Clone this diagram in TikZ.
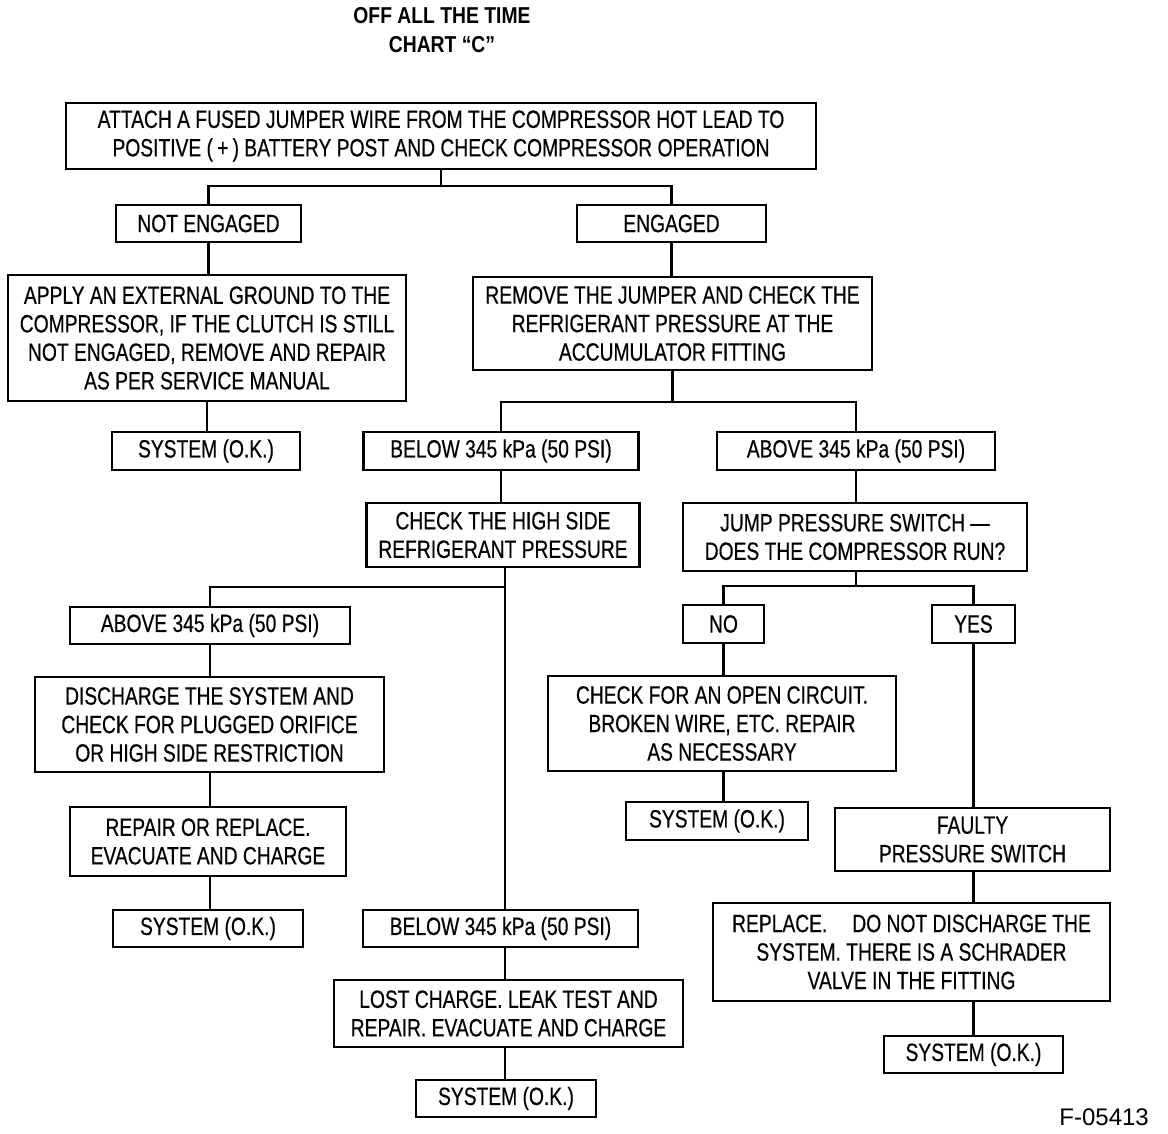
\documentclass[tikz,border=0pt]{standalone}
\usepackage{fontspec}
\setmainfont{Liberation Sans}[FakeStretch=0.77, FakeBold=0.4]
\newfontfamily\titlefont{Liberation Sans}[FakeStretch=0.84]
\newfontfamily\plainsans{Liberation Sans}
\begin{document}
\begin{tikzpicture}[x=1pt,y=-1pt,
  box/.style={draw, line width=2.1pt, inner sep=0pt, align=center,
    font=\fontsize{25}{28.5}\selectfont},
  sz/.style 2 args={minimum width=#1pt, minimum height=#2pt},
  conn/.style={line width=2.1pt}]
\useasboundingbox[fill=white] (0,0) rectangle (1168,1134);

\node[font=\titlefont\bfseries\fontsize{23}{29}\selectfont, align=center] (title) at (442,30) {OFF ALL THE TIME\\CHART “C”};

\node[box, sz={750}{66}] (top) at (441,136) {ATTACH A FUSED JUMPER WIRE FROM THE COMPRESSOR HOT LEAD TO\\POSITIVE (\,+\,) BATTERY POST AND CHECK COMPRESSOR OPERATION};
\node[box, sz={185}{37}] (ne) at (208.5,223.5) {NOT ENGAGED};
\node[box, sz={189}{37}] (en) at (671.5,223.5) {ENGAGED};
\node[box, sz={398}{126}] (apply) at (207,338) {APPLY AN EXTERNAL GROUND TO THE\\COMPRESSOR, IF THE CLUTCH IS STILL\\NOT ENGAGED, REMOVE AND REPAIR\\AS PER SERVICE MANUAL};
\node[box, sz={399}{93}] (remove) at (672.5,323.5) {REMOVE THE JUMPER AND CHECK THE\\REFRIGERANT PRESSURE AT THE\\ACCUMULATOR FITTING};
\node[box, sz={188}{38}] (sys1) at (206,451) {SYSTEM (O.K.)};
\node[box, sz={275}{38}] (b1) at (501,451) {BELOW 345 kPa (50 PSI)};
\node[box, sz={278}{38}] (a1) at (856,451) {ABOVE 345 kPa (50 PSI)};
\node[box, sz={273}{64}] (hs) at (503,535) {CHECK THE HIGH SIDE\\REFRIGERANT PRESSURE};
\node[box, sz={344}{68}] (jp) at (855,537) {JUMP PRESSURE SWITCH —\\DOES THE COMPRESSOR RUN?};
\node[box, sz={280}{37}] (a2) at (210,625.5) {ABOVE 345 kPa (50 PSI)};
\node[box, sz={349}{95}] (dis) at (209.5,724.5) {DISCHARGE THE SYSTEM AND\\CHECK FOR PLUGGED ORIFICE\\OR HIGH SIDE RESTRICTION};
\node[box, sz={276}{69}] (rep) at (208,841.5) {REPAIR OR REPLACE.\\EVACUATE AND CHARGE};
\node[box, sz={190}{37}] (sys2) at (208,928.5) {SYSTEM (O.K.)};
\node[box, sz={275}{37}] (b2) at (500.5,928.5) {BELOW 345 kPa (50 PSI)};
\node[box, sz={349}{67}] (lost) at (508.5,1013.5) {LOST CHARGE. LEAK TEST AND\\REPAIR. EVACUATE AND CHARGE};
\node[box, sz={180}{37}] (sys3) at (506,1098.5) {SYSTEM (O.K.)};
\node[box, sz={81}{38}] (no) at (723.5,624) {NO};
\node[box, sz={83}{38}] (yes) at (973.5,624) {YES};
\node[box, sz={348}{95}] (oc) at (722,723.5) {CHECK FOR AN OPEN CIRCUIT.\\BROKEN WIRE, ETC. REPAIR\\AS NECESSARY};
\node[box, sz={182}{38}] (sys4) at (717,821) {SYSTEM (O.K.)};
\node[box, sz={275}{63}] (fps) at (972.5,839.5) {FAULTY\\PRESSURE SWITCH};
\node[box, sz={397}{98}] (repl) at (911.5,952) {REPLACE.\quad DO NOT DISCHARGE THE\\SYSTEM. THERE IS A SCHRADER\\VALVE IN THE FITTING};
\node[box, sz={179}{37}] (sys5) at (973.5,1054.5) {SYSTEM (O.K.)};

\node[font=\plainsans\fontsize{24}{28}\selectfont, anchor=east, inner sep=0pt] (fig) at (1149,1117) {F-05413};

% connectors
\coordinate (j1) at (441,186);
\draw[conn] (top.south) -- (j1);
\draw[conn] (ne.north) |- (j1) -| (en.north);
\draw[conn] (ne.south) -- (ne.south |- apply.north);
\draw[conn] (apply.south) -- (apply.south |- sys1.north);
\draw[conn] (en.south) -- (en.south |- remove.north);
\coordinate (j2) at (672.5,402);
\draw[conn] (remove.south) -- (j2);
\draw[conn] (b1.north) |- (j2) -| (a1.north);
\draw[conn] (b1.south) -- (b1.south |- hs.north);
\draw[conn] (a1.south) -- (a1.south |- jp.north);
\coordinate (vx) at (505,0);
\coordinate (j3) at (505,587);
\draw[conn] (hs.south -| vx) -- (b2.north -| vx);
\draw[conn] (a2.north) |- (j3);
\draw[conn] (a2.south) -- (a2.south |- dis.north);
\draw[conn] (a2.south |- dis.south) -- (a2.south |- rep.north);
\draw[conn] (a2.south |- rep.south) -- (a2.south |- sys2.north);
\draw[conn] (b2.south -| vx) -- (lost.north -| vx);
\draw[conn] (lost.south -| vx) -- (sys3.north -| vx);
\coordinate (j4) at (856,586);
\draw[conn] (jp.south -| j4) -- (j4);
\draw[conn] (no.north) |- (j4) -| (yes.north);
\draw[conn] (no.south) -- (no.south |- oc.north);
\draw[conn] (no.south |- oc.south) -- (no.south |- sys4.north);
\draw[conn] (yes.south) -- (yes.south |- fps.north);
\draw[conn] (yes.south |- fps.south) -- (yes.south |- repl.north);
\draw[conn] (yes.south |- repl.south) -- (yes.south |- sys5.north);
\end{tikzpicture}
\end{document}
